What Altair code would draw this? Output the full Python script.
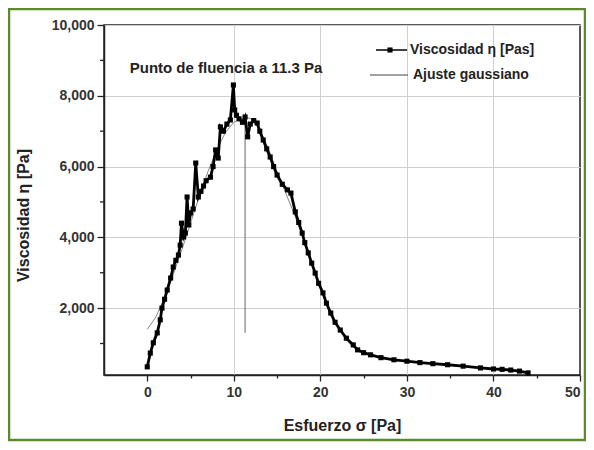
import altair as alt
import pandas as pd

# Viscosity data (stress sigma [Pa], viscosity eta [Pa s])
sigma = [0.0, 0.35, 0.7, 1.15, 1.5, 1.7, 2.0, 2.3, 2.7, 3.0, 3.3, 3.6, 3.8, 3.95, 4.2, 4.4,
         4.6, 4.8, 5.0, 5.3, 5.6, 5.9, 6.2, 6.5, 6.8, 7.3, 7.6, 7.9, 8.2, 8.45, 8.8, 9.2, 9.6,
         9.95, 10.1, 10.3, 10.6, 11.0, 11.3, 11.6, 11.9, 12.3, 12.7, 13.0, 13.4, 13.8, 14.2,
         14.6, 15.0, 15.6, 16.2, 16.6, 17.1, 17.5, 17.9, 18.2, 18.6, 19.0, 19.4, 19.8, 20.3,
         20.7, 21.2, 21.7, 22.3, 23.0, 23.8, 24.3, 25.0, 25.8, 27.0, 28.5, 30.0, 31.5, 33.0,
         34.7, 36.5, 38.5, 40.0, 41.0, 42.0, 43.0, 44.0]
eta = [340, 730, 1020, 1300, 1670, 2000, 2250, 2510, 2850, 3160, 3350, 3500, 3780, 4400, 4010, 4120,
       5140, 4350, 4690, 4800, 6100, 5140, 5300, 5450, 5600, 5700, 6000, 6470, 6240, 7120, 7000, 7200, 7316,
       8305, 7600, 7450, 7350, 7250, 7400, 6840, 7200, 7300, 7230, 7000, 6750, 6500, 6270,
       6000, 5760, 5500, 5340, 5250, 4720, 4420, 4120, 3850, 3560, 3270, 2990, 2700, 2430,
       2140, 1860, 1600, 1380, 1150, 960, 820, 740, 680, 600, 540, 500, 460, 430,
       400, 360, 310, 280, 270, 250, 220, 170]

# Gaussian fit (thin line)
fit_sigma = [0, 1, 2, 3, 4, 5, 6, 7, 8, 9, 10, 11.3, 12, 13, 14, 15, 16, 17, 18, 19, 20, 21, 22, 23, 24]
fit_eta = [1400, 1750, 2300, 2950, 3650, 4400, 5150, 5850, 6450, 6950, 7250, 7400, 7350, 7050, 6500,
           5850, 5250, 4650, 4000, 3300, 2600, 2000, 1500, 1100, 850]

# Yield point marker
yield_sigma = [11.3]
yield_lo = [1300]
yield_hi = [7400]

x_ticks = [0, 5, 10, 15, 20, 25, 30, 35, 40, 45, 50]
y_ticks = [2000, 4000, 6000, 8000, 10000]
y_minor = [1000, 3000, 5000, 7000, 9000]

FONT = "'Liberation Sans', Arial, sans-serif"
W, H = 476, 350

df = pd.DataFrame({"sigma": sigma, "eta": eta, "idx": list(range(len(sigma)))})
fit_df = pd.DataFrame({"sigma": fit_sigma, "eta": fit_eta})
yield_df = pd.DataFrame({"s": yield_sigma, "lo": yield_lo, "hi": yield_hi})
minor_df = pd.DataFrame({"m": y_minor})
one = pd.DataFrame({"a": [0]})

xscale = alt.Scale(domain=[-5, 50], nice=False)
yscale = alt.Scale(domain=[110, 10000], nice=False, zero=False)

xaxis = alt.Axis(
    values=x_ticks,
    format="d",
    labelExpr="datum.value % 10 == 0 ? datum.label : ''",
    tickSize={"condition": {"test": "datum.value % 10 == 0", "value": 6}, "value": 3},
    gridColor={"condition": {"test": "datum.value % 10 == 0 && datum.value > 0 && datum.value < 50", "value": "#cfcfcf"}, "value": "transparent"},
    grid=True,
    labelPadding=4,
    titlePadding=18,
)
yaxis = alt.Axis(
    values=y_ticks,
    format=",d",
    tickSize=7,
    gridColor="#cfcfcf",
    grid=True,
    labelPadding=3,
    titlePadding=20,
    titleY=190,
)

X = alt.X("sigma:Q", scale=xscale, axis=xaxis, title="Esfuerzo   σ [Pa]")
Y = alt.Y("eta:Q", scale=yscale, axis=yaxis, title="Viscosidad   η [Pa]")

fit = alt.Chart(fit_df).mark_line(color="#888888", strokeWidth=1).encode(x=X, y=Y)
line = alt.Chart(df).mark_line(color="black", strokeWidth=2.8).encode(x=X, y=Y, order="idx:Q")
pts = alt.Chart(df).mark_square(size=26, color="black", opacity=1).encode(x=X, y=Y)
yrule = alt.Chart(yield_df).mark_rule(color="#666666", strokeWidth=1).encode(
    x=alt.X("s:Q", scale=xscale), y=alt.Y("lo:Q", scale=yscale), y2="hi:Q")
minor = alt.Chart(minor_df).mark_rule(color="#222222", strokeWidth=1.3).encode(
    x=alt.value(-4), x2=alt.value(0), y=alt.Y("m:Q", scale=yscale))

annot = alt.Chart(one).mark_text(font=FONT, fontSize=15, fontWeight="bold", color="#222",
                                 text="Punto de fluencia a 11.3 Pa", align="center", baseline="middle"
                                 ).encode(x=alt.value(122), y=alt.value(43))
leg_t1 = alt.Chart(one).mark_text(font=FONT, fontSize=14, fontWeight="bold", color="#222",
                                  text="Viscosidad η [Pas]", align="left", baseline="middle"
                                  ).encode(x=alt.value(306), y=alt.value(25))
leg_t2 = alt.Chart(one).mark_text(font=FONT, fontSize=14, fontWeight="bold", color="#222",
                                  text="Ajuste gaussiano", align="left", baseline="middle"
                                  ).encode(x=alt.value(309), y=alt.value(50))
leg_l1 = alt.Chart(one).mark_rule(color="black", strokeWidth=1.5).encode(
    x=alt.value(272), x2=alt.value(303), y=alt.value(25))
leg_p1 = alt.Chart(one).mark_square(size=26, color="black", opacity=1).encode(
    x=alt.value(286), y=alt.value(25))
leg_l2 = alt.Chart(one).mark_rule(color="#444", strokeWidth=1).encode(
    x=alt.value(266), x2=alt.value(304), y=alt.value(50))

frame = alt.Chart(one).mark_rect(fill="transparent", stroke="#5b8a2c", strokeWidth=2.5).encode(
    x=alt.value(-95), x2=alt.value(W + 5), y=alt.value(-16), y2=alt.value(H + 65))

chart = alt.layer(
    fit, yrule, line, pts, minor, annot, leg_l1, leg_p1, leg_l2, leg_t1, leg_t2, frame
).properties(
    width=W, height=H,
    padding={"left": 96, "top": 17, "right": 6, "bottom": 67},
    autosize="none",
    background="white",
).configure_view(
    stroke="#222222", strokeWidth=1.5
).configure_axis(
    domainColor="#222222", domainWidth=1.5, tickColor="#222222", tickWidth=1.3,
    labelFont=FONT, labelFontSize=14, labelFontWeight="bold", labelColor="#333333",
    titleFont=FONT, titleFontSize=16, titleFontWeight="bold", titleColor="#222222",
)

chart.save("out.html", embed_options={"renderer": "svg", "actions": False})
